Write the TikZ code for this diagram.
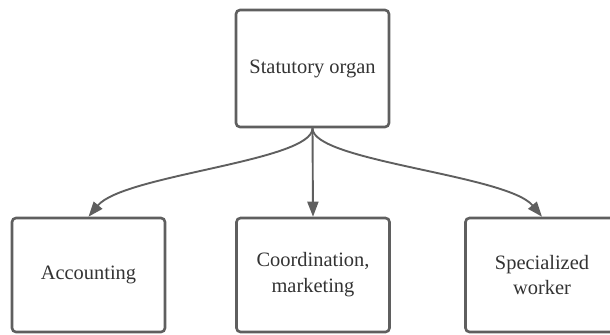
\documentclass[tikz,border=0pt]{standalone}
\usepackage{fontspec}
\setmainfont{Liberation Serif}
\usetikzlibrary{arrows.meta}

\definecolor{boxline}{HTML}{5F5F5F}
\definecolor{boxtext}{HTML}{333333}

\begin{document}
\begin{tikzpicture}[x=1bp,y=1bp,
        unit/.style={draw=boxline,line width=2.6bp,rounded corners=4bp,fill=white,
            minimum width=153bp,minimum height=114bp,align=center,
            text=boxtext,font=\fontsize{20.5}{26}\selectfont},
        link/.style={draw=boxline,line width=1.9bp,-{Triangle[length=15bp,width=11bp]}}]
        \useasboundingbox (0,0) rectangle (610,-334);

        \node[unit,minimum height=117bp] (organ) at (312.5,-68.5) {Statutory organ};
        \node[unit] (acc) at (88.5,-275) {Accounting};
        \node[unit] (coord) at (313,-275) {Coordination,\\marketing};
        \node[unit] (spec) at (542,-275) {Specialized\\worker};

        \draw[link] (organ.south) .. controls +(0,-33) and +(35,42) .. (acc.north);
        \draw[link] (organ.south) -- (coord.north);
        \draw[link] (organ.south) .. controls +(0,-33) and +(-35,42) .. (spec.north);
    \end{tikzpicture}
\end{document}
